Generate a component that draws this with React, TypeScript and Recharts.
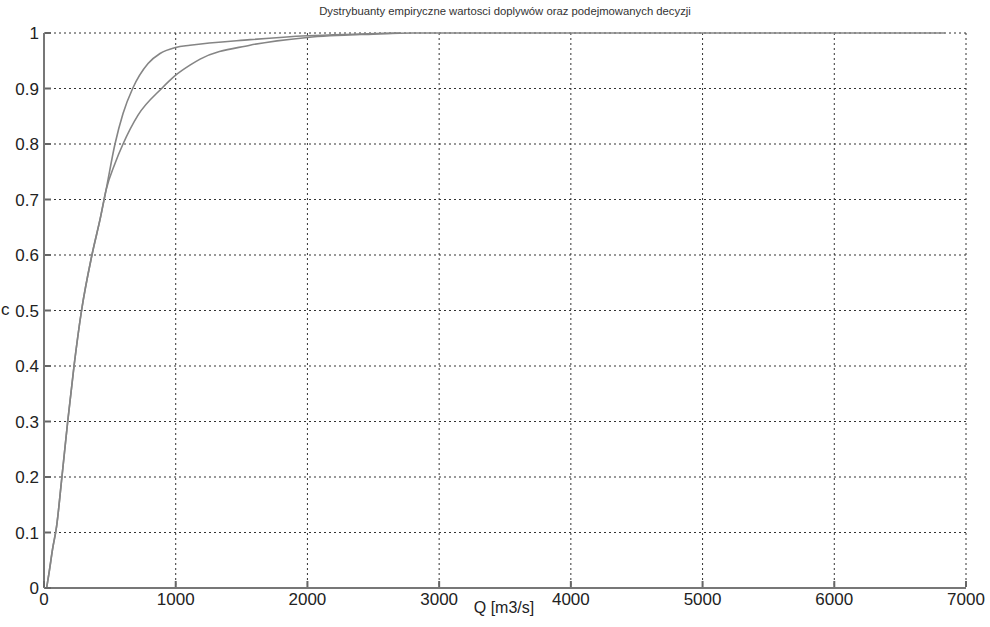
import { LineChart, Line, XAxis, YAxis, CartesianGrid } from "recharts";

const xTicks = [0, 1000, 2000, 3000, 4000, 5000, 6000, 7000];
const yTicks = [0, 0.1, 0.2, 0.3, 0.4, 0.5, 0.6, 0.7, 0.8, 0.9, 1];

// empirical CDF of decisions (steeper curve)
const decisionQ = [20, 40, 65, 95, 136, 180, 228, 285, 364, 430, 471, 539, 600, 673, 790, 881, 1000, 1108, 1564, 2000, 2400, 2700];
const decisionF = [0, 0.03, 0.07, 0.11, 0.2, 0.3, 0.4, 0.5, 0.6, 0.669, 0.717, 0.8, 0.855, 0.9, 0.945, 0.963, 0.974, 0.978, 0.988, 0.995, 0.998, 1];

// empirical CDF of inflows (long tail)
const inflowQ = [20, 40, 65, 95, 136, 180, 228, 285, 364, 430, 471, 539, 600, 714, 893, 1000, 1108, 1185, 1564, 2000, 2500, 2800, 6840];
const inflowF = [0, 0.03, 0.07, 0.11, 0.2, 0.3, 0.4, 0.5, 0.6, 0.669, 0.717, 0.765, 0.8, 0.852, 0.9, 0.924, 0.942, 0.953, 0.978, 0.992, 0.998, 1, 1];

const decisions = decisionQ.map((q, i) => ({ q, f: decisionF[i] }));
const inflows = inflowQ.map((q, i) => ({ q, f: inflowF[i] }));

const font = "'Liberation Sans', Arial, sans-serif";

function YTick(props: any) {
  const { x, y, payload } = props;
  return (
    <g>
      <line x1={x + 11} y1={y} x2={x + 17} y2={y} stroke="#666" strokeWidth={2} />
      <text x={x + 5} y={y} dy={6} textAnchor="end" fontSize={17} fill="#222" fontFamily={font}>
        {payload.value}
      </text>
    </g>
  );
}

function XTick(props: any) {
  const { x, y, payload } = props;
  return (
    <g>
      <line x1={x} y1={y - 11} x2={x} y2={y - 17} stroke="#666" strokeWidth={2} />
      <text x={x} y={y} dy={7} textAnchor="middle" fontSize={17} fill="#222" fontFamily={font}>
        {payload.value}
      </text>
    </g>
  );
}

export default function App() {
  return (
    <div style={{ position: "absolute", left: 0, top: 0, width: 990, height: 627, background: "#fff" }}>
      <div
        style={{
          position: "absolute",
          left: 0,
          width: 1010,
          top: 5,
          textAlign: "center",
          fontFamily: font,
          fontSize: 11.3,
          color: "#333",
        }}
      >
        Dystrybuanty empiryczne wartosci doplywów oraz podejmowanych decyzji
      </div>
      <div
        style={{
          position: "absolute",
          left: 0,
          width: 1008,
          top: 599,
          textAlign: "center",
          fontFamily: font,
          fontSize: 16,
          color: "#222",
        }}
      >
        Q [m3/s]
      </div>
      <div style={{ position: "absolute", left: 1, top: 300, fontFamily: font, fontSize: 17, color: "#222" }}>c</div>
      <LineChart width={990} height={627} margin={{ top: 33, right: 24, bottom: 0, left: 0 }}>
        <CartesianGrid stroke="#333" strokeDasharray="2 3" strokeWidth={1} />
        <XAxis
          type="number"
          dataKey="q"
          domain={[0, 7000]}
          ticks={xTicks}
          interval={0}
          height={39}
          stroke="#777"
          strokeWidth={2}
          tickLine={false}
          tickSize={8}
          tick={<XTick />}
          allowDuplicatedCategory={false}
        />
        <YAxis
          type="number"
          dataKey="f"
          domain={[0, 1]}
          ticks={yTicks}
          interval={0}
          width={44}
          stroke="#777"
          strokeWidth={2}
          tickLine={false}
          tickSize={8}
          tick={<YTick />}
        />
        <Line
          data={inflows}
          dataKey="f"
          type="monotone"
          stroke="#858585"
          strokeWidth={1.6}
          dot={false}
          isAnimationActive={false}
        />
        <Line
          data={decisions}
          dataKey="f"
          type="monotone"
          stroke="#858585"
          strokeWidth={1.6}
          dot={false}
          isAnimationActive={false}
        />
      </LineChart>
    </div>
  );
}
